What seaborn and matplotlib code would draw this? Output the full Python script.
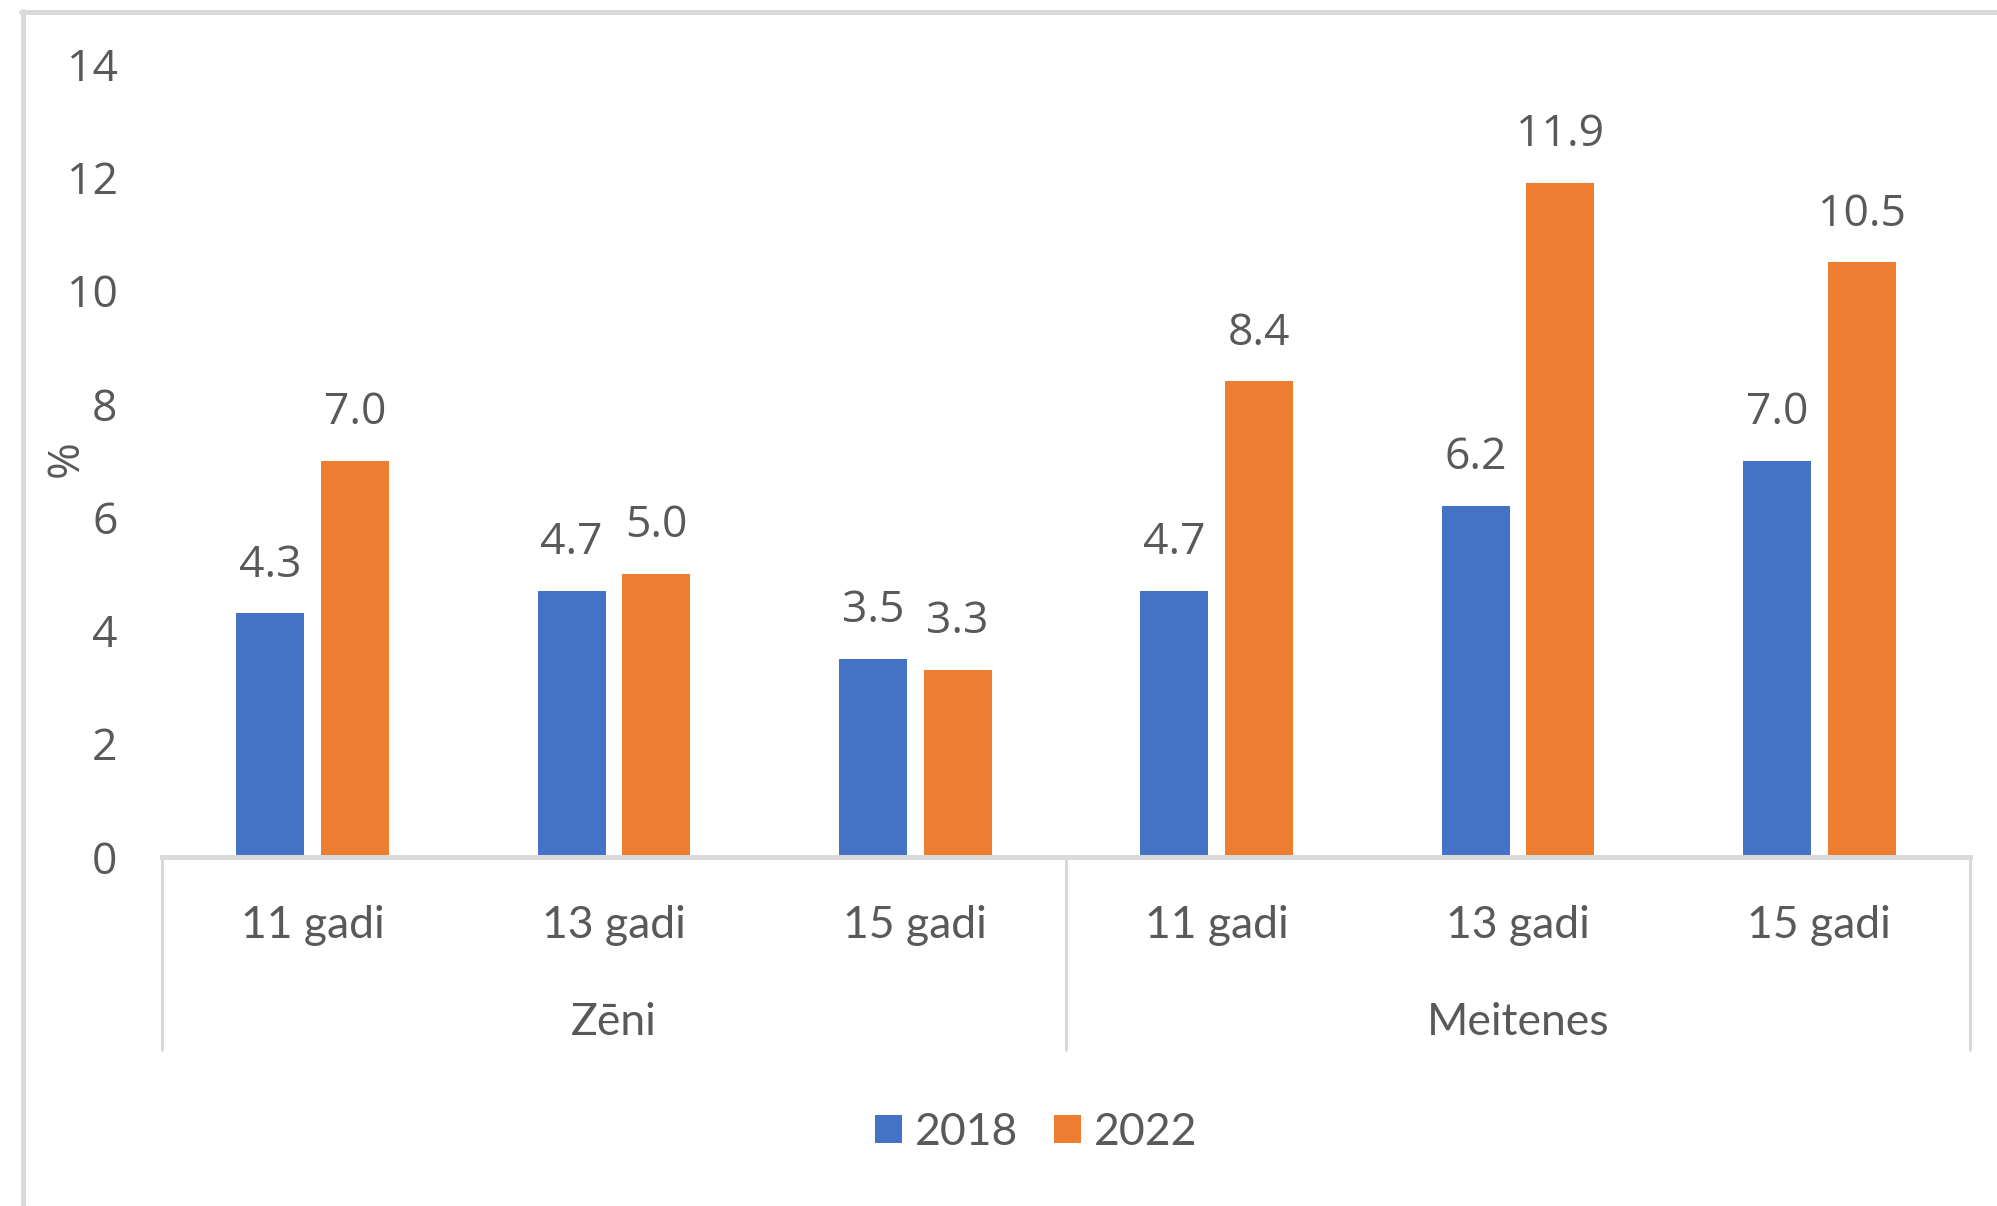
import matplotlib
matplotlib.use("Agg")
import matplotlib.pyplot as plt
from matplotlib.lines import Line2D
from matplotlib.patches import Patch
import seaborn as sns
import pandas as pd

# Data
groups = ["Zēni", "Meitenes"]
ages = ["11 gadi", "13 gadi", "15 gadi"]
years = ["2018", "2022"]
values_2018 = [4.3, 4.7, 3.5, 4.7, 6.2, 7.0]
values_2022 = [7.0, 5.0, 3.3, 8.4, 11.9, 10.5]
y_ticks = [0, 2, 4, 6, 8, 10, 12, 14]

colors = {"2018": "#4472C4", "2022": "#ED7D31"}
text_color = "#595959"
line_color = "#D9D9D9"

cats = [f"{g} {a}" for g in groups for a in ages]
df = pd.DataFrame({
    "cat": cats * 2,
    "year": ["2018"] * 6 + ["2022"] * 6,
    "value": values_2018 + values_2022,
})

sns.set_theme(style="white")
plt.rcParams["font.family"] = ["Open Sans", "DejaVu Sans"]

fig = plt.figure(figsize=(19.97, 12.06), dpi=100)
ax = fig.add_axes([0.0811, 0.2894, 0.9054, 0.6575])

sns.barplot(data=df, x="cat", y="value", hue="year", order=cats,
            hue_order=years, palette=colors, width=0.562, gap=0.2,
            linewidth=0, saturation=1, legend=False, ax=ax)

ax.set_xlim(-0.5, 5.5)
ax.set_ylim(0, 14)
ax.set_yticks(y_ticks)
ax.set_yticklabels([str(t) for t in y_ticks], fontsize=32, color=text_color,
                   family=["Open Sans", "DejaVu Sans"])
ax.set_xticks(range(6))
ax.set_xticklabels(ages * 2, fontsize=32, color=text_color,
                   family=["Lato", "DejaVu Sans"])
for lab in ax.get_xticklabels():
    lab.set_va("center")
ax.tick_params(axis="x", length=0, pad=49)
ax.tick_params(axis="y", length=0, pad=32)
ax.set_xlabel("")

ax.set_ylabel("%", fontsize=32, color=text_color,
              family=["Open Sans", "DejaVu Sans"])
ax.yaxis.label.set_va("center")
ax.yaxis.set_label_coords(-0.053, 0.502)

for side in ["top", "right", "left"]:
    ax.spines[side].set_visible(False)
ax.spines["bottom"].set_color(line_color)
ax.spines["bottom"].set_linewidth(3.6)

# Value labels above bars
for container, vals in zip(ax.containers, [values_2018, values_2022]):
    for bar, v in zip(container, vals):
        ax.annotate(f"{v:.1f}", (bar.get_x() + bar.get_width() / 2, v),
                    xytext=(0, 34.5), textcoords="offset points",
                    ha="center", va="center", fontsize=32, color=text_color,
                    family=["Open Sans", "DejaVu Sans"])

# Group separators and group labels
trans = ax.get_xaxis_transform()
for xs in [-0.5, 2.5, 5.5]:
    ax.plot([xs, xs], [0, -0.2446], transform=trans, color=line_color,
            lw=2.2, clip_on=False, solid_capstyle="butt")
for i, g in enumerate(groups):
    ax.text(1 + 3 * i, -0.209, g, transform=trans, ha="center", va="center",
            fontsize=32, color=text_color, family=["Lato", "DejaVu Sans"])

# Legend
handles = [Patch(facecolor=colors[y], edgecolor="none", label=y) for y in years]
leg = fig.legend(handles=handles, loc="center", bbox_to_anchor=(0.519, 0.061),
                 ncol=2, frameon=False, handlelength=0.6, handleheight=0.6,
                 handletextpad=0.3, columnspacing=0.8,
                 prop={"family": ["Lato", "DejaVu Sans"], "size": 32})
for t in leg.get_texts():
    t.set_color(text_color)

# Frame edges on the left and top
fig.add_artist(Line2D([23 / 1997, 23 / 1997], [0, 1 - 11 / 1206],
                      transform=fig.transFigure, color=line_color, lw=3.6))
fig.add_artist(Line2D([21 / 1997, 1], [1 - 11.5 / 1206, 1 - 11.5 / 1206],
                      transform=fig.transFigure, color=line_color, lw=3.6))

fig.savefig("out.png", dpi=100)
